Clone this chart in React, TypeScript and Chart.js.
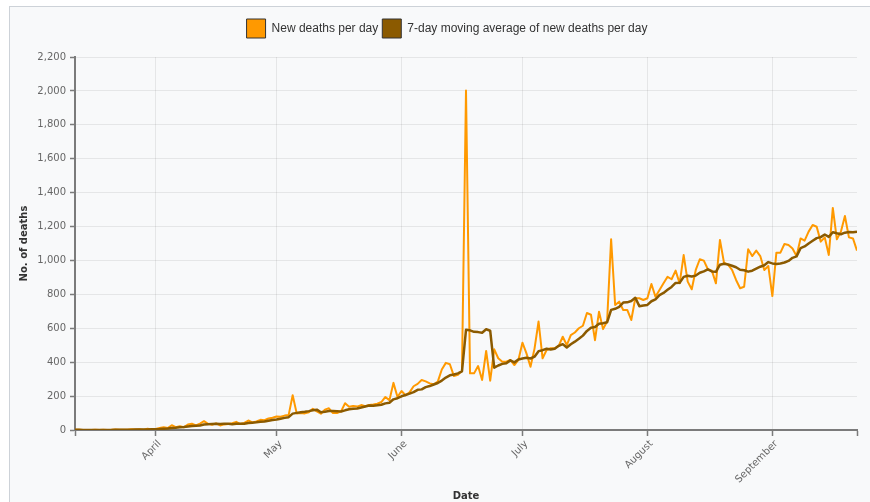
import { useEffect, useRef } from 'react';
import { Chart, registerables } from 'chart.js';

Chart.register(...registerables);

// Day 0 = 12 March 2020, last day = 22 September 2020
const newDeaths = [
  1, 1, 0, 0, 0, 1, 0, 1, 0, 1, 3, 2, 1, 1, 5, 3, 5, 2, 7, 3,
  6, 12, 16, 12, 28, 17, 22, 16, 32, 37, 27, 38, 52, 36, 31, 39, 27, 33, 36, 40,
  48, 35, 42, 56, 45, 51, 60, 58, 68, 72, 80, 78, 85, 88, 205, 98, 100, 98, 105, 125,
  110, 96, 120, 128, 100, 100, 110, 158, 137, 142, 138, 147, 140, 148, 150, 155, 165, 195, 175, 278,
  195, 230, 205, 222, 258, 272, 295, 287, 275, 270, 285, 357, 396, 388, 318, 325, 350, 2003, 334, 334,
  377, 295, 466, 291, 476, 423, 403, 403, 413, 383, 413, 515, 452, 373, 480, 640, 423, 472, 482, 482,
  496, 550, 501, 560, 575, 600, 615, 690, 680, 530, 698, 595, 640, 1125, 737, 757, 708, 708, 649, 777,
  777, 767, 777, 861, 786, 826, 865, 904, 889, 940, 865, 1032, 875, 830, 944, 1007, 999, 948, 940, 865,
  1121, 987, 975, 945, 885, 836, 845, 1066, 1026, 1058, 1026, 944, 967, 790, 1046, 1046, 1097, 1091, 1071, 1026,
  1130, 1117, 1170, 1209, 1199, 1111, 1136, 1032, 1310, 1125, 1170, 1262, 1136, 1130, 1058,
];

const movingAverage = [
  1, 1, 0.7, 0.5, 0.4, 0.5, 0.4, 0.4, 0.3, 0.4, 0.9, 1.1, 1.1, 1.3, 1.9, 2.3, 2.9, 2.7, 3.4, 3.7,
  4.4, 5.4, 7.3, 8.3, 12, 13.4, 16.1, 17.6, 20.4, 23.4, 25.6, 27, 32, 34, 36.1, 37.1, 35.7, 36.6, 36.3, 34.6,
  36.3, 36.9, 37.3, 41.4, 43.1, 45.3, 48.1, 49.6, 54.3, 58.6, 62, 66.7, 71.6, 75.6, 96.6, 100.9, 104.9, 107.4, 111.3, 117,
  120.1, 104.6, 107.7, 111.7, 112, 111.3, 109.1, 116, 121.9, 125, 126.4, 133.1, 138.9, 144.3, 143.1, 145.7, 149, 157.1, 161.1, 180.9,
  187.6, 199, 206.1, 214.3, 223.3, 237.1, 239.6, 252.7, 259.1, 268.4, 277.4, 291.6, 309.3, 322.6, 327, 334.1, 345.6, 591, 587.7, 578.9,
  577.3, 574, 594.1, 585.7, 367.6, 380.3, 390.1, 393.9, 410.7, 398.9, 416.3, 421.9, 426, 421.7, 432.7, 465.1, 470.9, 479.3, 474.6, 478.9,
  496.4, 506.4, 486.6, 506.1, 520.9, 537.7, 556.7, 584.4, 603, 607.1, 626.9, 629.7, 635.4, 708.3, 715, 726, 751.4, 752.9, 760.6, 780.1,
  730.4, 734.7, 737.6, 759.4, 770.6, 795.9, 808.4, 826.6, 844, 867.3, 867.9, 903, 910, 905, 910.7, 927.6, 936, 947.9, 934.7, 933.3,
  974.9, 981, 976.4, 968.7, 959.7, 944.9, 942, 934.1, 939.7, 951.6, 963.1, 971.6, 990.3, 982.4, 979.6, 982.4, 988, 997.3, 1015.4, 1023.9,
  1072.4, 1082.6, 1100.3, 1116.3, 1131.7, 1137.4, 1153.1, 1139.1, 1166.7, 1160.3, 1154.7, 1163.7, 1167.3, 1166.4, 1170.1,
];

const monthTickDays = [20, 50, 81, 111, 142, 173];
const monthLabels = ['April', 'May', 'June', 'July', 'August', 'September'];
const yMax = 2200;
const yStep = 200;

// Moves the legend up so it sits with a gap above the plot, as in the reference.
const legendLift = {
  id: 'legendLift',
  afterLayout(chart: any) {
    const l = chart.legend;
    if (l) {
      l.top -= 9;
      l.bottom -= 9;
    }
  },
};

export default function App() {
  const ref = useRef<HTMLCanvasElement>(null);

  useEffect(() => {
    if (!ref.current) return;
    const lastDay = newDeaths.length - 1;
    const tickFont = { family: '"DejaVu Sans", sans-serif', size: 10 };
    const titleFont = { family: '"DejaVu Sans", sans-serif', size: 10, weight: 'bold' as const };
    const gridColor = 'rgba(0,0,0,0.075)';
    const axisColor = '#7b7b7b';

    const chart = new Chart(ref.current, {
      type: 'line',
      plugins: [legendLift],
      data: {
        datasets: [
          {
            label: 'New deaths per day',
            data: newDeaths.map((v, i) => ({ x: i, y: v })),
            borderColor: '#FF9900',
            backgroundColor: '#FF9900',
            borderWidth: 2,
            pointRadius: 0,
            tension: 0,
            borderJoinStyle: 'round',
            order: 1,
          },
          {
            label: '7-day moving average of new deaths per day',
            data: movingAverage.map((v, i) => ({ x: i, y: v })),
            borderColor: '#8B5A00',
            backgroundColor: '#8B5A00',
            borderWidth: 2.5,
            pointRadius: 0,
            tension: 0,
            borderJoinStyle: 'round',
            order: 0,
          },
        ],
      },
      options: {
        animation: false,
        responsive: false,
        events: [],
        layout: { padding: { left: 37, right: 13, top: 15, bottom: 0 } },
        plugins: {
          tooltip: { enabled: false },
          legend: {
            display: true,
            position: 'top',
            labels: {
              boxWidth: 19,
              boxHeight: 19,
              padding: 4,
              color: '#333',
              font: { family: '"Liberation Sans", Arial, sans-serif', size: 12 },
              generateLabels: (c: any) =>
                c.data.datasets.map((ds: any, i: number) => ({
                  text: ds.label,
                  fillStyle: ds.backgroundColor,
                  strokeStyle: '#333',
                  lineWidth: 1,
                  hidden: false,
                  datasetIndex: i,
                  fontColor: '#333',
                })),
            },
          },
        },
        scales: {
          x: {
            type: 'linear',
            min: 0,
            max: lastDay,
            afterBuildTicks: (s: any) => {
              s.ticks = [0, ...monthTickDays, lastDay].map((v) => ({ value: v }));
            },
            afterFit: (s: any) => {
              s.height = 72;
            },
            ticks: {
              autoSkip: false,
              maxRotation: 45,
              minRotation: 45,
              padding: 2,
              labelOffset: 4,
              color: '#666',
              font: tickFont,
              callback: (v: any) => {
                const i = monthTickDays.indexOf(Number(v));
                return i >= 0 ? monthLabels[i] : '';
              },
            },
            grid: {
              color: (ctx: any) =>
                ctx.tick && monthTickDays.includes(ctx.tick.value) ? gridColor : 'rgba(0,0,0,0)',
              tickColor: axisColor,
              tickLength: 6,
              tickWidth: 1.5,
            },
            border: { color: axisColor, width: 2 },
            title: {
              display: true,
              text: 'Date',
              color: '#333',
              font: titleFont,
              padding: { top: -5, bottom: 0 },
            },
          },
          y: {
            min: 0,
            max: yMax,
            afterFit: (s: any) => {
              s.width = 38;
              s.paddingTop = 57;
            },
            ticks: {
              stepSize: yStep,
              padding: 4,
              color: '#666',
              font: tickFont,
              callback: (v: any) => Number(v).toLocaleString('en-US'),
            },
            grid: {
              color: gridColor,
              tickColor: axisColor,
              tickLength: 5,
              tickWidth: 1.5,
            },
            border: { color: axisColor, width: 2 },
            title: {
              display: true,
              text: 'No. of deaths',
              color: '#333',
              font: titleFont,
              padding: { top: -19, bottom: 0 },
            },
          },
        },
      },
    });
    return () => chart.destroy();
  }, []);

  return (
    <>
      <div
        style={{
          position: 'fixed',
          left: 9,
          top: 6,
          width: 900,
          height: 600,
          border: '1px solid #cdd2d8',
          background: '#f8f9fa',
        }}
      />
      <canvas
        ref={ref}
        width={870}
        height={502}
        style={{ position: 'fixed', left: 0, top: 0, width: 870, height: 502 }}
      />
    </>
  );
}
